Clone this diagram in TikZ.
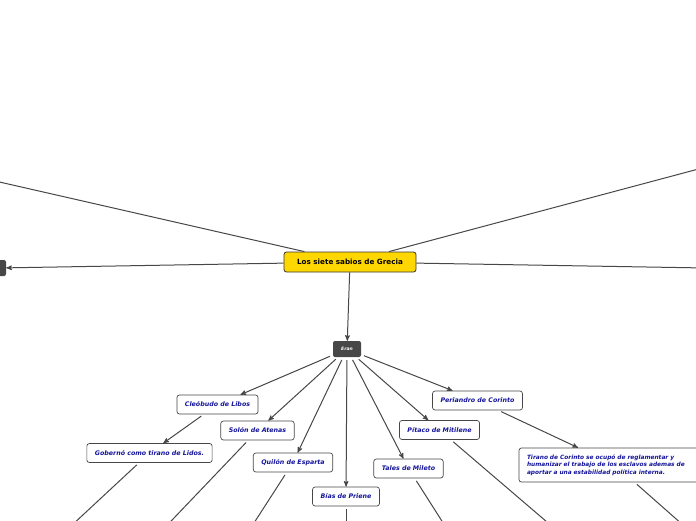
\documentclass[tikz,border=0pt]{standalone}
\usepackage{fontspec}
\setmainfont{DejaVu Sans}
\usepackage{tikz}
\usetikzlibrary{arrows}
\definecolor{linea}{HTML}{474747}
\definecolor{oro}{HTML}{FFD700}
\definecolor{azul}{HTML}{14149A}
\tikzset{
  sabio/.style={draw=linea, fill=white, rounded corners=2.5pt, line width=0.7pt, text=azul,
    font=\fontsize{6.3}{8}\selectfont\bfseries\itshape, inner xsep=8pt, minimum height=19pt},
  flecha/.style={linea, line width=1pt, ->, >=stealth'},
  rama/.style={linea, line width=1pt}
}

\begin{document}
\begin{tikzpicture} [x=1pt, y=-1pt]
\clip (0,0) rectangle (696,520);
\node[draw=black!80, fill=oro, rounded corners=2.5pt, line width=0.8pt, minimum width=132pt, minimum height=20pt,
  font=\fontsize{7.2}{8}\selectfont\bfseries] (sabios) at (350,262) {Los siete sabios de Grecia};
\node[fill=linea, rounded corners=2pt, minimum width=28pt, minimum height=16pt, inner sep=0pt, text=white,
  font=\fontsize{4.5}{5}\selectfont\bfseries\itshape] (eran) at (347,349) {Eran};
\node[fill=linea, rounded corners=2pt, minimum width=16pt, minimum height=16pt] (izq) at (-2,268) {};
\coordinate (arribaizq) at (-40,173);
\coordinate (arribader) at (736,159);
\coordinate (der) at (736,268.5);

% los siete sabios
\node[sabio] (cleobudo) at (217.5,404.5) {Cleóbudo de Libos};
\node[sabio] (solon) at (257.5,430.5) {Solón de Atenas};
\node[sabio] (quilon) at (293,462.5) {Quilón de Esparta};
\node[sabio] (bias) at (346,496.5) {Bías de Priene};
\node[sabio] (tales) at (408.5,468.5) {Tales de Mileto};
\node[sabio] (pitaco) at (439.5,430) {Pítaco de Mitilene};
\node[sabio] (periandro) at (477.5,400.5) {Periandro de Corinto};
\node[sabio] (gobierno) at (149.5,453) {Gobernó como tirano de Lidos.};
\node[sabio, text width=176pt, minimum height=34pt, align=left, font=\fontsize{5.85}{7.6}\selectfont\bfseries\itshape]
  (tirano) at (615,465)
  {Tirano de Corinto se ocupó de reglamentar y\\ humanizar el trabajo de los esclavos ademas de\\ aportar a una estabilidad política interna.};

\draw[rama] (sabios) -- (arribaizq);
\draw[rama] (sabios) -- (arribader);
\draw[rama] (sabios) -- (der);
\draw[flecha] (sabios) -- (izq);
\draw[flecha] (sabios) -- (eran);

\foreach \s in {cleobudo, solon, quilon, bias, tales, pitaco, periandro}
  \draw[flecha, shorten <=3pt] (eran) -- (\s);
\draw[flecha, shorten <=3pt] (cleobudo) -- (gobierno);
\draw[flecha, shorten <=3pt] (periandro) -- (tirano);

% ramas que salen por abajo
\coordinate (bajo1) at (56,540);
\coordinate (bajo2) at (153,540);
\coordinate (bajo3) at (243,540);
\coordinate (bajo4) at (346,540);
\coordinate (bajo5) at (454,540);
\coordinate (bajo6) at (568,540);
\coordinate (bajo7) at (700,540);
\draw[rama, shorten <=3pt] (gobierno) -- (bajo1);
\draw[rama, shorten <=3pt] (solon) -- (bajo2);
\draw[rama, shorten <=3pt] (quilon) -- (bajo3);
\draw[rama, shorten <=3pt] (bias) -- (bajo4);
\draw[rama, shorten <=3pt] (tales) -- (bajo5);
\draw[rama, shorten <=3pt] (pitaco) -- (bajo6);
\draw[rama, shorten <=3pt] (tirano) -- (bajo7);
\end{tikzpicture}
\end{document}
